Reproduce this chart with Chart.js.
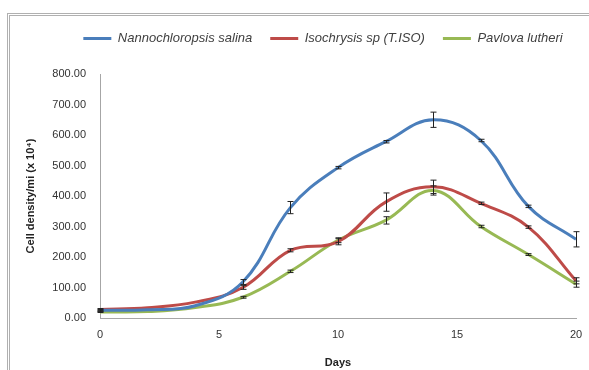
<!DOCTYPE html>
<html>
<head>
<meta charset="utf-8">
<script src="https://cdn.jsdelivr.net/npm/chart.js@4.4.0/dist/chart.umd.min.js"></script>
<style>
  html, body { margin: 0; padding: 0; background: #fff; }
  #wrap { position: relative; width: 589px; height: 370px; }
  #frame { position: absolute; left: 7px; top: 13px; right: 0; bottom: 0;
           border-top: 3px double #b0b0b0; border-left: 3px double #b0b0b0; }
  canvas { position: absolute; left: 0; top: 0; }
</style>
</head>
<body>
<div id="wrap">
  <div id="frame"></div>
  <canvas id="growthChart" width="589" height="370"></canvas>
</div>
<script>
var days = [0, 2, 4, 6, 8, 10, 12, 14, 16, 18, 20];
var nannochloropsis = [25, 27, 40, 118, 362, 493, 578, 650, 582, 366, 258];
var isochrysis = [28, 34, 52, 100, 222, 250, 380, 430, 376, 298, 122];
var pavlova = [20, 21, 34, 68, 153, 255, 320, 418, 300, 208, 111];
var errNanno = [3, 0, 0, 8, 20, 4, 4, 25, 4, 4, 25];
var errIso = [3, 0, 0, 6, 5, 10, 30, 22, 4, 4, 10];
var errPav = [2, 0, 0, 3, 4, 8, 12, 15, 4, 3, 10];
var yTicks = [0, 100, 200, 300, 400, 500, 600, 700, 800];

function toPoints(vals) {
	var pts = [];
	for (var i = 0; i < days.length; i++) {
		pts.push({ x: days[i], y: vals[i] });
	}
	return pts;
}

// whiskers drawn through the chart's own scales
var errorBars = {
	id: 'errorBars',
	afterDatasetsDraw: function(chart) {
		var ctx = chart.ctx;
		var xs = chart.scales.x, ys = chart.scales.y;
		ctx.save();
		ctx.strokeStyle = '#222';
		ctx.lineWidth = 1;
		chart.data.datasets.forEach(function(ds) {
			for (var i = 0; i < ds.data.length; i++) {
				if (!ds.errors[i]) continue;
				var px = Math.round(xs.getPixelForValue(ds.data[i].x)) + 0.5;
				var top = ys.getPixelForValue(ds.data[i].y + ds.errors[i]);
				var bot = ys.getPixelForValue(ds.data[i].y - ds.errors[i]);
				ctx.beginPath();
				ctx.moveTo(px, top); ctx.lineTo(px, bot);
				ctx.moveTo(px - 3, top); ctx.lineTo(px + 3, top);
				ctx.moveTo(px - 3, bot); ctx.lineTo(px + 3, bot);
				ctx.stroke();
			}
		});
		ctx.restore();
	}
};

var legendSize = {
	id: 'legendSize',
	beforeInit: function(chart) {
		var origFit = chart.legend.fit;
		chart.legend.fit = function() {
			origFit.bind(chart.legend)();
			this.height = 66;
		};
	},
	afterLayout: function(chart) {
		// legend sits a bit to the right of the canvas centre, and lower
		chart.legend.left = 57;
		chart.legend.right = 589;
		chart.legend.top = 14;
	}
};

const ctx = document.getElementById('growthChart').getContext('2d');
const myChart = new Chart(ctx, {
	type: 'line',
	data: {
		datasets: [{
			label: 'Nannochloropsis salina',
			data: toPoints(nannochloropsis),
			errors: errNanno,
			borderColor: '#4a7ebb',
			backgroundColor: '#4a7ebb',
			borderWidth: 3
		}, {
			label: 'Isochrysis sp (T.ISO)',
			data: toPoints(isochrysis),
			errors: errIso,
			borderColor: '#be4b48',
			backgroundColor: '#be4b48',
			borderWidth: 3
		}, {
			label: 'Pavlova lutheri',
			data: toPoints(pavlova),
			errors: errPav,
			borderColor: '#98b954',
			backgroundColor: '#98b954',
			borderWidth: 3
		}]
	},
	options: {
		responsive: false,
		animation: false,
		layout: { padding: { left: 20, right: 13, top: 8, bottom: 0 } },
		elements: {
			line: { tension: 0.4, fill: false },
			point: { radius: 0 }
		},
		plugins: {
			legend: {
				position: 'top',
				labels: {
					usePointStyle: true,
					pointStyle: 'line',
					pointStyleWidth: 28,
					padding: 18,
					color: '#404040',
					font: { family: 'Liberation Sans', size: 13, style: 'italic' }
				}
			},
			tooltip: { enabled: false }
		},
		scales: {
			x: {
				type: 'linear',
				min: 0,
				max: 20,
				ticks: { stepSize: 5, color: '#333', padding: 2,
					font: { family: 'Liberation Sans', size: 11 } },
				grid: { display: false },
				border: { color: '#a6a6a6' },
				title: { display: true, text: 'Days', color: '#222',
					padding: { top: 10, bottom: 0 },
					font: { family: 'Liberation Sans', size: 11, weight: 'bold' } },
				afterFit: function(scale) { scale.height = 52; }
			},
			y: {
				min: 0,
				max: 800,
				afterBuildTicks: function(scale) {
					scale.ticks = yTicks.map(function(v) { return { value: v }; });
				},
				ticks: { color: '#333', padding: 6,
					font: { family: 'Liberation Sans', size: 11 } ,
					callback: function(v) { return v.toFixed(2); } },
				grid: { display: false },
				border: { color: '#a6a6a6' },
				title: { display: true, text: 'Cell density/mi (x 10\u2074)', color: '#222',
					font: { family: 'Liberation Sans', size: 11, weight: 'bold' } },
				afterFit: function(scale) { scale.width = 80; }
			}
		}
	},
	plugins: [errorBars, legendSize]
});
</script>
</body>
</html>
